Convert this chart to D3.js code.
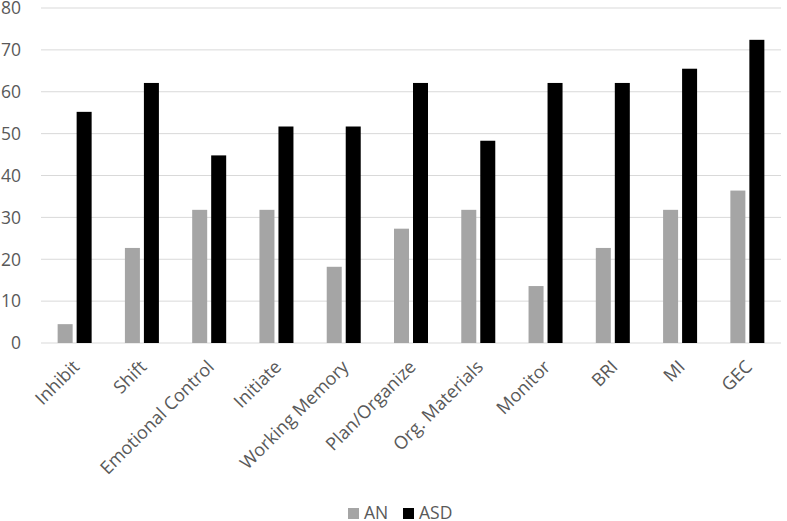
<!DOCTYPE html>
<html>
<head>
<meta charset="utf-8">
<script src="https://cdn.jsdelivr.net/npm/d3@7"></script>
<style>
  body { margin: 0; background: #fff; }
  text { font-family: "Open Sans", "Noto Sans", sans-serif; fill: #595959; }
</style>
</head>
<body>
<div id="chart"></div>
<script>
var categories = ["Inhibit", "Shift", "Emotional Control", "Initiate", "Working Memory",
    "Plan/Organize", "Org. Materials", "Monitor", "BRI", "MI", "GEC"];
var seriesNames = ["AN", "ASD"];
var anValues  = [4.5, 22.7, 31.8, 31.8, 18.2, 27.3, 31.8, 13.6, 22.7, 31.8, 36.4];
var asdValues = [55.2, 62.1, 44.8, 51.7, 51.7, 62.1, 48.3, 62.1, 62.1, 65.5, 72.4];
var yTicks = [0, 10, 20, 30, 40, 50, 60, 70, 80];
var colors = ["#a5a5a5", "#000000"];

var width = 787, height = 521;
var margin = {left: 41, right: 6, top: 8, bottom: 178};

var svg = d3.select("#chart").append("svg")
    .attr("width", width)
    .attr("height", height);

var x = d3.scaleBand()
    .domain(categories)
    .range([margin.left, width - margin.right]);

var y = d3.scaleLinear()
    .domain([0, 80])
    .range([height - margin.bottom, margin.top]);

// gridlines
svg.selectAll("line.grid")
    .data(yTicks).enter().append("line")
    .attr("class", "grid")
    .attr("x1", margin.left)
    .attr("x2", width - margin.right)
    .attr("y1", function(d) { return y(d); })
    .attr("y2", function(d) { return y(d); })
    .attr("stroke", "#d9d9d9")
    .attr("stroke-width", 1);

// y labels
svg.selectAll("text.ytick")
    .data(yTicks).enter().append("text")
    .attr("class", "ytick")
    .attr("x", 21)
    .attr("y", function(d) { return y(d); })
    .attr("dy", "0.36em")
    .attr("text-anchor", "end")
    .style("font-size", "17.5px")
    .text(function(d) { return d; });

var barW = 15, gap = 4;
var data = categories.map(function(c, i) {
    return {cat: c, vals: [anValues[i], asdValues[i]]};
});

var groups = svg.selectAll("g.cat")
    .data(data).enter().append("g")
    .attr("class", "cat")
    .attr("transform", function(d) {
        return "translate(" + (x(d.cat) + x.bandwidth() / 2) + ",0)";
    });

groups.selectAll("rect")
    .data(function(d) { return d.vals; })
    .enter().append("rect")
    .attr("x", function(d, i) { return i == 0 ? -barW - gap / 2 : gap / 2; })
    .attr("y", function(d) { return y(d); })
    .attr("width", barW)
    .attr("height", function(d) { return y(0) - y(d); })
    .attr("fill", function(d, i) { return colors[i]; });

// category labels, rotated
groups.append("text")
    .attr("text-anchor", "end")
    .attr("transform", "translate(6," + (y(0) + 25) + ") rotate(-45)")
    .style("font-size", "18px")
    .text(function(d) { return d.cat; });

// legend
var legend = svg.append("g").attr("transform", "translate(348,513)");
var legX = [0, 55];
seriesNames.forEach(function(s, i) {
    legend.append("rect")
        .attr("x", legX[i])
        .attr("y", -5)
        .attr("width", 11)
        .attr("height", 11)
        .attr("fill", colors[i]);
    legend.append("text")
        .attr("x", legX[i] + 16)
        .attr("y", 0)
        .attr("dy", "0.36em")
        .style("font-size", "17.5px")
        .text(s);
});
</script>
</body>
</html>
